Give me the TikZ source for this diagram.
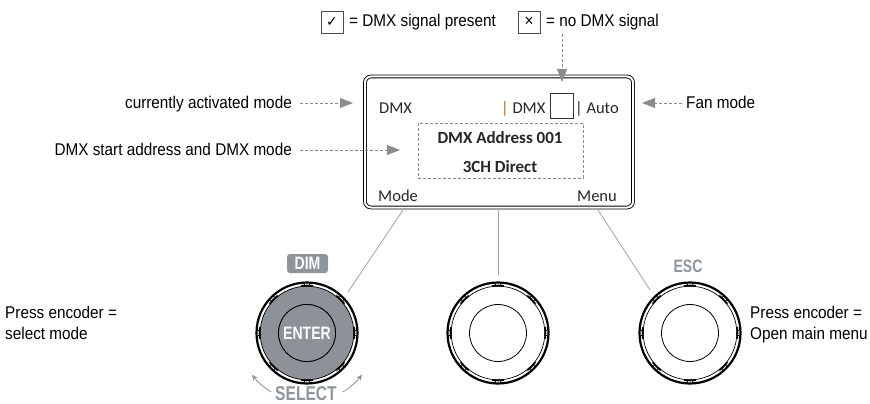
\documentclass[tikz,border=0pt]{standalone}
\usepackage{fontspec}
\setmainfont{Liberation Sans}[FakeStretch=0.9]
\newfontfamily\dispfont{Carlito}
\newfontfamily\heavyfont{Liberation Sans}[FakeStretch=0.78]
\newfontfamily\symfont{DejaVu Sans}
\usetikzlibrary{arrows.meta}
\definecolor{lblgray}{HTML}{8E969A}
\definecolor{knobgray}{HTML}{8C9297}
\definecolor{dashgray}{HTML}{8A8A8A}
\definecolor{headgray}{HTML}{8C8C8C}
\definecolor{linegray}{HTML}{9AA3A8}
\definecolor{barorange}{HTML}{B8651B}
\tikzset{
  lbl/.style={inner sep=0pt, font=\fontsize{17}{20}\selectfont},
  disptxt/.style={inner sep=0pt, font=\dispfont\fontsize{16.5}{19}\selectfont, text=black!85},
  dispbold/.style={inner sep=0pt, font=\dispfont\bfseries\fontsize{17}{19}\selectfont, text=black!85},
  heavylbl/.style={inner sep=0pt, font=\heavyfont\bfseries\fontsize{18}{20}\selectfont},
  pointer/.style={dashgray, line width=0.8pt, dash pattern=on 3pt off 2pt,
    -{Triangle[length=13pt,width=10pt,fill=headgray,color=headgray,sep=0pt]}},
  knobline/.style={linegray, line width=0.8pt},
  chkbox/.style={draw=black!70, line width=0.8pt, minimum width=22pt, minimum height=22pt, inner sep=0pt},
  knob/.pic={
    \draw[line width=2.2pt] (0,0) circle (50.5);
    \draw[line width=0.7pt] (0,0) circle (46.8);
    \foreach \a in {0,45,...,315}{
      \draw[line width=1.8pt] (\a-7:47.4) arc[start angle=\a-7, end angle=\a+7, radius=47.4];
      \draw[line width=0.6pt] (\a-3:46.8) -- (\a-3:50.5);
      \draw[line width=0.6pt] (\a+3:46.8) -- (\a+3:50.5);
    }
    \draw[line width=0.8pt] (0,0) circle (28.5);
  },
  knobfill/.pic={
    \fill[knobgray] (0,0) circle (47);
  }
}
\begin{document}
\begin{tikzpicture}[x=1pt,y=-1pt]
\useasboundingbox (0,0) rectangle (870,404);

% legend at top
\node[chkbox] (cb1) at (332,22) {\symfont\fontsize{14}{14}\selectfont ✓};
\node[lbl, anchor=base west] (cbt1) at (349,27) {= DMX signal present};
\node[chkbox] (cb2) at (529,22) {\fontsize{17}{17}\selectfont ×};
\node[lbl, anchor=base west] (cbt2) at (546,27) {= no DMX signal};

% display
\node[draw, double, double distance=2pt, line width=0.9pt, rounded corners=6pt,
      minimum width=268pt, minimum height=131pt, inner sep=0pt] (disp) at (499,142) {};
\node[disptxt, anchor=base west] (dmode) at (379,113) {DMX};
\node[disptxt, anchor=base west] (dsig) at (501,113) {\textcolor{barorange}{|} DMX};
\node[draw=black!80, line width=0.9pt, minimum width=23pt, minimum height=25pt, inner sep=0pt] (dbox) at (561.5,105.5) {};
\node[disptxt, anchor=base west] (dfan) at (575,113) {| Auto};
\node[draw=dashgray, line width=0.8pt, dash pattern=on 3pt off 2pt, minimum width=165pt, minimum height=55pt, inner sep=0pt] (daddr) at (500.5,150.5) {};
\node[dispbold, anchor=base] (dl1) at (500,143) {DMX Address 001};
\node[dispbold, anchor=base] (dl2) at (500,172) {3CH Direct};
\node[disptxt, anchor=base west] (dmodek) at (378,201) {Mode};
\node[disptxt, anchor=base east] (dmenu) at (617,201) {Menu};

% left / right annotations
\node[lbl, anchor=base east] (tcur) at (292,108) {currently activated mode};
\node[lbl, anchor=base east] (tstart) at (292,155) {DMX start address and DMX mode};
\node[lbl, anchor=base west] (tfan) at (686,108) {Fan mode};

\coordinate (acur) at (353,103);
\coordinate (astart) at (400,150);
\coordinate (afan) at (642,103);
\coordinate (asig) at (562,82);
\coordinate (asigtop) at (562,34);
\draw[pointer] (tcur.east |- acur) ++(8,0) -- (acur);
\draw[pointer] (tstart.east |- astart) ++(8,0) -- (astart);
\draw[pointer] (682,103) -- (afan);
\draw[pointer] (asigtop) -- (asig);

% knobs
\coordinate (kL) at (307,333);
\coordinate (kM) at (498,333);
\coordinate (kR) at (690,333);
\pic at (kL) {knobfill};
\pic at (kL) {knob};
\fill[knobgray] (kL) circle (28.5);
\draw[line width=0.8pt] (kL) circle (28.5);
\pic at (kM) {knob};
\pic at (kR) {knob};

\node[heavylbl, text=white, anchor=center] (enter) at (307,333) {\bfseries ENTER};
\node[heavylbl, fill=lblgray, text=white, rounded corners=3pt, minimum width=41pt, minimum height=19pt, inner sep=0pt] (dim) at (307.5,263.5) {\bfseries DIM};
\node[heavylbl, text=lblgray] (esc) at (688,266) {\bfseries ESC};
\node[inner sep=0pt, font=\heavyfont\bfseries\fontsize{20}{22}\selectfont, text=lblgray, anchor=base] (sel) at (306,400) {\bfseries SELECT};

% select arrows
\draw[lblgray, line width=0.8pt, -{Stealth[length=6pt,width=5pt]}] (kL) ++(121:69) arc[start angle=121, end angle=143, radius=69];
\draw[lblgray, line width=0.8pt, -{Stealth[length=6pt,width=5pt]}] (kL) ++(59:69) arc[start angle=59, end angle=37, radius=69];

% lines from knobs to display
\coordinate (lL1) at (348,292);
\coordinate (lL2) at (403,210);
\coordinate (lM1) at (498,275);
\coordinate (lM2) at (498,210);
\coordinate (lR1) at (650,290);
\coordinate (lR2) at (598,210);
\draw[knobline] (lL1) -- (lL2);
\draw[knobline] (lM1) -- (lM2);
\draw[knobline] (lR1) -- (lR2);

% press encoder texts
\node[lbl, anchor=base west] (pl1) at (5,318) {Press encoder =};
\node[lbl, anchor=base west] (pl2) at (5,339) {select mode};
\node[lbl, anchor=base west] (pr1) at (750,318) {Press encoder =};
\node[lbl, anchor=base west] (pr2) at (750,339) {Open main menu};
\end{tikzpicture}
\end{document}
